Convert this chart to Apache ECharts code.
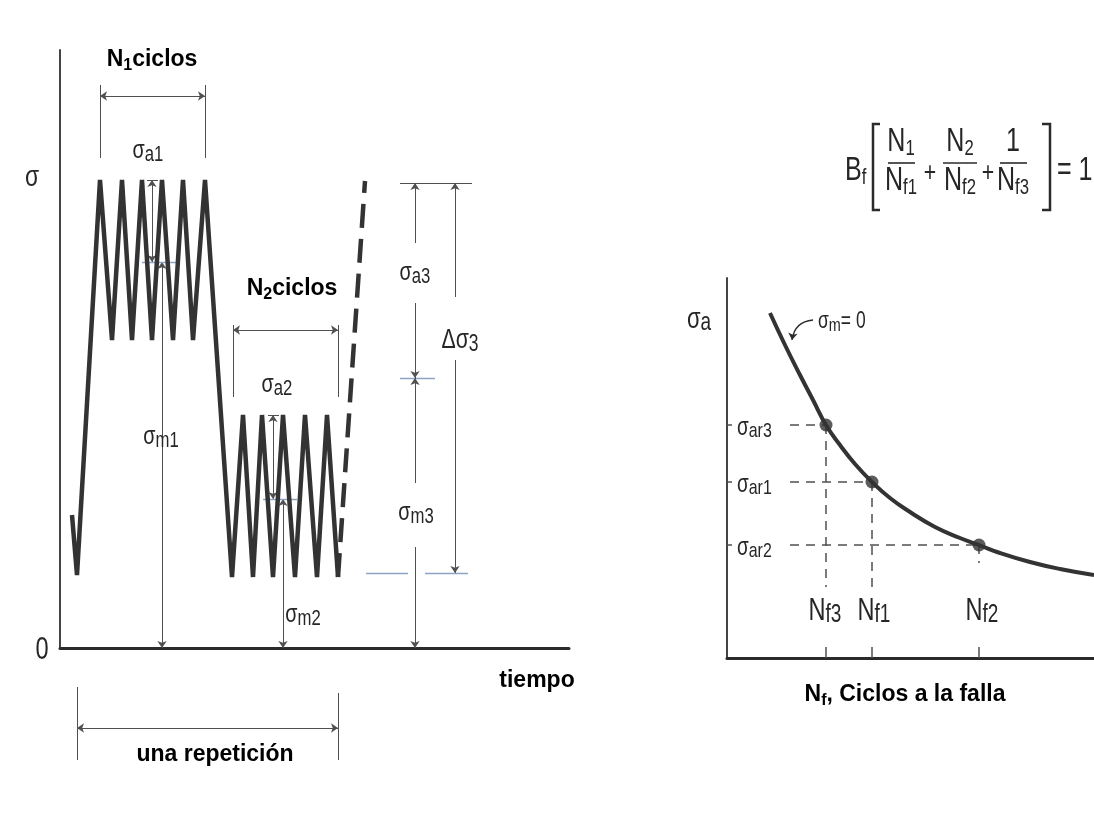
<!DOCTYPE html>
<html><head><meta charset="utf-8">
<script src="https://cdn.jsdelivr.net/npm/echarts@6/dist/echarts.min.js"></script>
<style>html,body{margin:0;padding:0;background:#fff}#c{width:1094px;height:813px}</style>
</head><body><div id="c"></div>
<script>
// ---------- data (arbitrary units) ----------
// Left panel: stress history (time, stress)
const zigzagTime   = [12, 17, 40, 52, 62, 72, 82, 92, 102, 113, 123, 133, 145, 172, 183, 193, 202, 213, 223, 235, 245, 257, 267, 278];
const zigzagStress = [133, 73, 468, 308, 468, 308, 468, 308, 468, 308, 468, 308, 468, 71, 233, 71, 233, 71, 233, 71, 233, 71, 233, 71];
const block3Time   = [278, 305];
const block3Stress = [71, 467];
const levelMax  = [468, 233, 465];   // block 1, 2, 3
const levelMean = [386, 149, 270];
const levelMin  = [308, 71, 75];
const blockStart = [40, 173];
const blockEnd   = [145, 278];
const repetition = [17, 278];
// Right panel: S-N curve (Nf, sigma_a)
const curveN  = [43, 58, 73, 86, 99, 113, 128, 145, 163, 183, 208, 233, 252, 273, 303, 333, 367];
const curveSa = [345, 313, 283, 258, 233, 213, 194, 176, 160, 146, 131, 120, 113, 105, 96, 89, 83];
const failN   = [99, 145, 252];   // Nf3, Nf1, Nf2
const failSa  = [233, 176, 113];  // sigma_ar3, sigma_ar1, sigma_ar2
const failTag = ['3', '1', '2'];

// ---------- styles ----------
const INK = '#2b2b2b';
const TXT = '#262626';
const SANS = "'Liberation Sans',Arimo,Arial,sans-serif";
const NARROW = 0.76;   // horizontal squeeze that imitates the condensed face of the figure
const thin = {color: '#505050', width: 1};
const blue = {color: '#8ca5c4', width: 1.3};
const dash = {color: '#505050', width: 1.5, type: [9, 7]};
const both = ['arrow', 'arrow'], start = ['arrow', 'none'], end = ['none', 'arrow'], none = ['none', 'none'];

const BRICH = {
  b:  {fontFamily: SANS, fontWeight: 'bold', fontSize: 23, lineHeight: 28, color: '#000', opacity: 1},
  bs: {fontFamily: SANS, fontWeight: 'bold', fontSize: 16, lineHeight: 16, verticalAlign: 'bottom', color: '#000', opacity: 1}
};
function rich(main, sub, lh, shift) {
  return {
    m: {fontFamily: SANS, fontSize: main, lineHeight: lh, fill: TXT},
    s: {fontFamily: SANS, fontSize: sub, lineHeight: Math.max(1, lh - 2 * shift), verticalAlign: 'bottom', fill: TXT}
  };
}
const R_SIG = rich(26, 22, 30, 10);
const R_AR  = rich(25, 21, 28, 8);
const R_NF  = rich(31, 25, 34, 13);
const R_SA  = rich(29, 25, 32, 15);
const R_SM  = rich(23, 19, 26, 11);
const R_F   = rich(33, 22, 36, 16);
const R_NUM = rich(33, 22, 36, 7);

function seg(list, a, b, sym, st) { list.push({coords: [a, b], symbol: sym, lineStyle: st}); }

// ---------- left annotations ----------
const L = [];
for (let i = 0; i < 2; i++) {
  seg(L, [blockStart[i], i ? 251 : 490], [blockStart[i], i ? 323 : 563], none, thin);
  seg(L, [blockEnd[i], i ? 251 : 490], [blockEnd[i], i ? 323 : 563], none, thin);
  seg(L, [blockStart[i], i ? 318 : 552], [blockEnd[i], i ? 318 : 552], both, thin);
}
const aX = [92, 213], mX = [102, 223];
for (let i = 0; i < 2; i++) {
  seg(L, [aX[i] - 5, levelMax[i]], [aX[i] + 6, levelMax[i]], none, thin);
  seg(L, [aX[i], levelMax[i]], [aX[i], levelMean[i]], both, thin);
  seg(L, [mX[i], levelMean[i]], [mX[i], 0], both, thin);
  seg(L, [mX[i] - 20, levelMean[i]], [mX[i] + 14, levelMean[i]], none, blue);
}
seg(L, [340, levelMax[2]], [412, levelMax[2]], none, thin);
seg(L, [340, levelMean[2]], [375, levelMean[2]], none, blue);
seg(L, [306, levelMin[2]], [348, levelMin[2]], none, blue);
seg(L, [365, levelMin[2]], [408, levelMin[2]], none, blue);
seg(L, [355, levelMax[2]], [355, 405], start, thin);
seg(L, [355, 345], [355, levelMean[2]], end, thin);
seg(L, [355, levelMean[2]], [355, 165], start, thin);
seg(L, [355, 101], [355, 0], end, thin);
seg(L, [395, levelMax[2]], [395, 351], start, thin);
seg(L, [395, 288], [395, levelMin[2]], end, thin);
seg(L, [repetition[0], -39], [repetition[0], -112], none, thin);
seg(L, [repetition[1], -45], [repetition[1], -112], none, thin);
seg(L, [repetition[0], -80], [repetition[1], -80], both, thin);

const leftBold = [
  {value: [92, 588], label: {formatter: '{b|N}{bs|1}{b|ciclos}'}},
  {value: [232, 359], label: {formatter: '{b|N}{bs|2}{b|ciclos}'}},
  {value: [477, -33], label: {formatter: '{b|tiempo}'}},
  {value: [155, -107], label: {formatter: '{b|una repetición}'}}
];

// ---------- right annotations ----------
const R = [];
for (let i = 0; i < 3; i++) {
  seg(R, [63, failSa[i]], [failN[i], failSa[i]], none, dash);
  seg(R, [failN[i], failSa[i]], [failN[i], i === 2 ? 95 : 71], none, dash);
  seg(R, [failN[i], 11], [failN[i], 0], none, {color: '#505050', width: 1.5});
  seg(R, [0, failSa[i]], [5, failSa[i]], none, {color: '#505050', width: 1.5});
}
const rightBold = [
  {value: [178, -37], label: {formatter: '{b|N}{bs|f}{b|, Ciclos a la falla}'}}
];

// condensed math labels, anchored in data coordinates (converted after layout)
const mathLabels = [
  {g: 0, at: [88, 497], t: '{m|σ}{s|a1}', r: R_SIG},
  {g: 0, at: [101, 211], t: '{m|σ}{s|m1}', r: R_SIG},
  {g: 0, at: [217, 263], t: '{m|σ}{s|a2}', r: R_SIG},
  {g: 0, at: [243, 33], t: '{m|σ}{s|m2}', r: R_SIG},
  {g: 0, at: [355, 375], t: '{m|σ}{s|a3}', r: R_SIG},
  {g: 0, at: [356, 135], t: '{m|σ}{s|m3}', r: R_SIG},
  {g: 0, at: [400, 308], t: '{m|Δσ}{s|3}', r: rich(28, 23, 32, 10)},
  {g: 0, at: [-28, 470], t: '{m|σ}', r: rich(30, 20, 34, 0)},
  {g: 0, at: [-18, -2], t: '{m|0}', r: rich(31, 20, 34, 0)},
  {g: 1, at: [-28, 338], t: '{m|σ}{s|a}', r: R_SA},
  {g: 1, at: [91, 336], t: '{m|σ}{s|m}{m|= 0}', r: R_SM, align: 'left'}
];
for (let i = 0; i < 3; i++) {
  mathLabels.push({g: 1, at: [10, failSa[i] - 3], t: '{m|σ}{s|ar' + failTag[i] + '}', r: R_AR, align: 'left'});
  mathLabels.push({g: 1, at: [failN[i] + [-1, 2, 3][i], 47], t: '{m|N}{s|f' + failTag[i] + '}', r: R_NF});
}

// ---------- chart ----------
const axisOff = {axisTick: {show: false}, axisLabel: {show: false}, splitLine: {show: false}};
const boldLabel = {show: true, position: 'inside', color: '#000', textBorderWidth: 0, opacity: 1, rich: BRICH};
const chart = echarts.init(document.getElementById('c'));
chart.setOption({
  animation: false,
  backgroundColor: '#fff',
  grid: [
    {left: 60, top: 50, width: 509, height: 598},
    {left: 727, top: 278, width: 367, height: 380}
  ],
  xAxis: [
    Object.assign({gridIndex: 0, type: 'value', min: 0, max: 509, axisLine: {show: true, lineStyle: {color: INK, width: 3}}}, axisOff),
    Object.assign({gridIndex: 1, type: 'value', min: 0, max: 367, axisLine: {show: true, lineStyle: {color: INK, width: 3}}}, axisOff)
  ],
  yAxis: [
    Object.assign({gridIndex: 0, type: 'value', min: 0, max: 598, axisLine: {show: true, lineStyle: {color: '#444', width: 2}}}, axisOff),
    Object.assign({gridIndex: 1, type: 'value', min: 0, max: 380, axisLine: {show: true, lineStyle: {color: '#444', width: 2}}}, axisOff)
  ],
  series: [
    {type: 'line', xAxisIndex: 0, yAxisIndex: 0, silent: true, symbol: 'none',
      lineStyle: {color: '#333', width: 4.5},
      data: zigzagTime.map((t, i) => [t, zigzagStress[i]])},
    {type: 'line', xAxisIndex: 0, yAxisIndex: 0, silent: true, symbol: 'none',
      lineStyle: {color: '#333', width: 4.5, type: [24, 11], cap: 'butt'},
      data: block3Time.map((t, i) => [t, block3Stress[i]])},
    {type: 'lines', coordinateSystem: 'cartesian2d', xAxisIndex: 0, yAxisIndex: 0, silent: true, clip: false,
      symbol: ['none', 'none'], symbolSize: 7, lineStyle: {color: '#505050', width: 1, opacity: 1}, data: L},
    {type: 'scatter', xAxisIndex: 0, yAxisIndex: 0, silent: true, clip: false, symbolSize: 1,
      itemStyle: {color: '#fff', opacity: 0}, label: boldLabel, data: leftBold},
    {type: 'line', xAxisIndex: 1, yAxisIndex: 1, silent: true, symbol: 'none', smooth: true,
      lineStyle: {color: '#333', width: 4},
      data: curveN.map((n, i) => [n, curveSa[i]])},
    {type: 'scatter', xAxisIndex: 1, yAxisIndex: 1, silent: true, symbolSize: 13,
      itemStyle: {color: '#333'},
      data: failN.map((n, i) => [n, failSa[i]])},
    {type: 'lines', coordinateSystem: 'cartesian2d', xAxisIndex: 1, yAxisIndex: 1, silent: true, clip: false,
      symbol: ['none', 'none'], symbolSize: 7, lineStyle: {color: '#505050', width: 1, opacity: 1}, data: R},
    {type: 'lines', coordinateSystem: 'cartesian2d', xAxisIndex: 1, yAxisIndex: 1, silent: true, clip: false,
      symbol: ['none', 'arrow'], symbolSize: 7, lineStyle: {color: INK, width: 1.3, opacity: 1, curveness: -0.4},
      data: [{coords: [[86, 338], [65, 318]]}]},
    {type: 'scatter', xAxisIndex: 1, yAxisIndex: 1, silent: true, clip: false, symbolSize: 1,
      itemStyle: {color: '#fff', opacity: 0}, label: boldLabel, data: rightBold}
  ]
});

// ---------- text drawn with a condensed look (graphic), formula ----------
function ctext(x, y, text, r, align) {
  return {type: 'text', x: x, y: y, scaleX: NARROW, silent: true, z: 10,
    style: {text: text, rich: r, align: align || 'center', verticalAlign: 'middle'}};
}
const graphic = mathLabels.map(function (o) {
  const p = chart.convertToPixel({gridIndex: o.g}, o.at);
  return ctext(p[0], p[1], o.t, o.r, o.align);
});
// formula  B_f [ N1/Nf1 + N2/Nf2 + 1/Nf3 ] = 1
graphic.push(
  ctext(845, 171, '{m|B}{s|f}', R_F, 'left'),
  ctext(901, 142, '{m|N}{s|1}', R_NUM), ctext(960, 142, '{m|N}{s|2}', R_NUM), ctext(1013, 142, '{m|1}', R_NUM),
  ctext(901, 181, '{m|N}{s|f1}', R_F), ctext(960, 181, '{m|N}{s|f2}', R_F), ctext(1013, 181, '{m|N}{s|f3}', R_F),
  ctext(930, 173, '{m|+}', rich(28, 20, 30, 0)), ctext(988, 173, '{m|+}', rich(28, 20, 30, 0)),
  ctext(1057, 171, '{m|= 1}', R_F, 'left'),
  {type: 'line', silent: true, shape: {x1: 888, y1: 163, x2: 915, y2: 163}, style: {stroke: INK, lineWidth: 1.6}},
  {type: 'line', silent: true, shape: {x1: 943, y1: 163, x2: 977, y2: 163}, style: {stroke: INK, lineWidth: 1.6}},
  {type: 'line', silent: true, shape: {x1: 1000, y1: 163, x2: 1027, y2: 163}, style: {stroke: INK, lineWidth: 1.6}},
  {type: 'polyline', silent: true, shape: {points: [[880, 124], [873, 124], [873, 210], [880, 210]]}, style: {stroke: INK, lineWidth: 2.5, fill: null}},
  {type: 'polyline', silent: true, shape: {points: [[1042, 124], [1050, 124], [1050, 210], [1042, 210]]}, style: {stroke: INK, lineWidth: 2.5, fill: null}}
);
chart.setOption({graphic: graphic});
</script>
</body></html>
